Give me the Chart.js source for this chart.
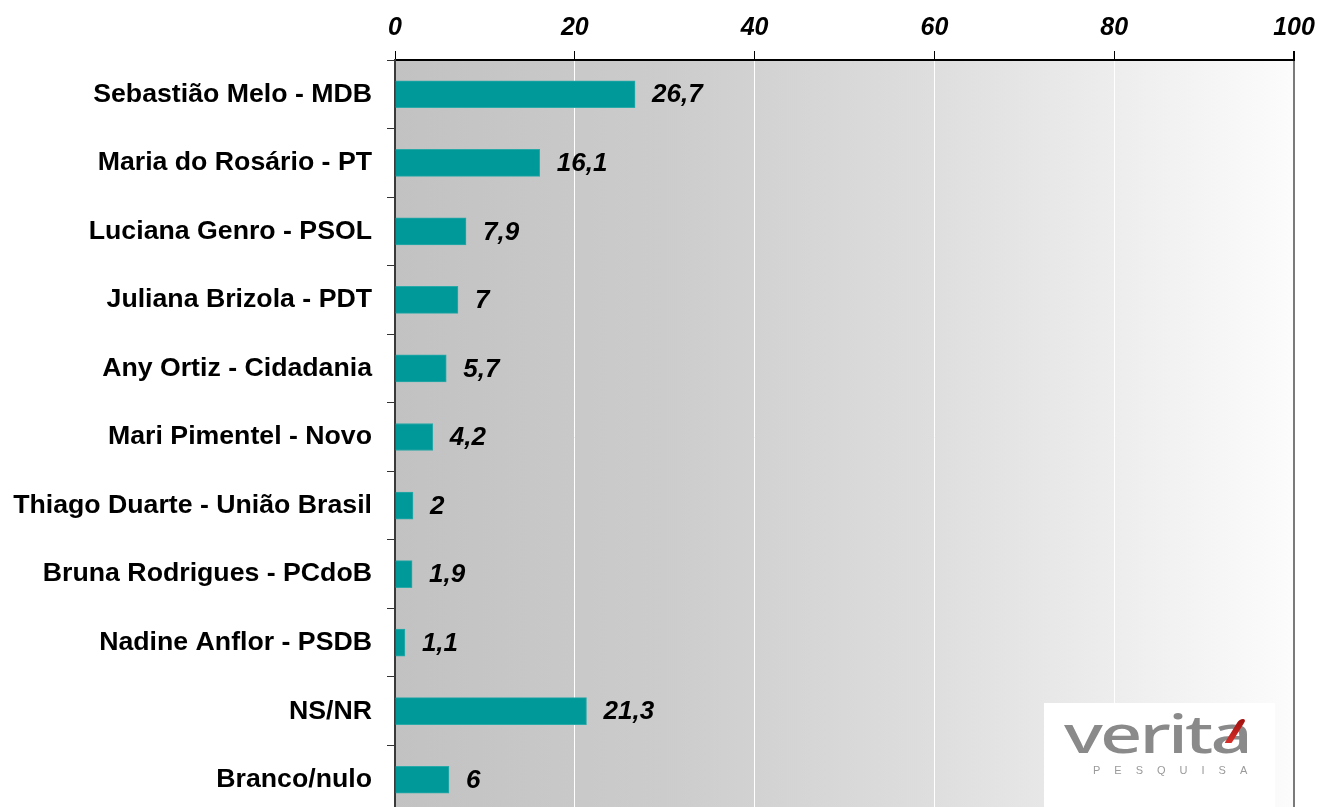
<!DOCTYPE html>
<html>
<head>
<meta charset="utf-8">
<script src="https://cdn.jsdelivr.net/npm/chart.js@4/dist/chart.umd.min.js"></script>
<style>
    html, body { margin: 0; padding: 0; background: #ffffff; overflow: hidden; }
    #wrap { position: relative; width: 1320px; height: 807px; }
    #logo {
        position: absolute; left: 1044px; top: 703px; width: 231px; height: 110px;
        background: #ffffff;
    }
    #logo .word {
        position: absolute; left: 20px; top: -6px;
        font-family: "Noto Sans", sans-serif; font-size: 52px; font-weight: 500; color: #8a8a8a;
        letter-spacing: -2px; transform: scaleX(1.42); transform-origin: left top;
    }
    #logo .accent {
        position: absolute; left: 188px; top: 16px; width: 7px; height: 24px;
        background: linear-gradient(#a0100e, #d8302a); transform: skewX(-32deg); border-radius: 4px 4px 1px 1px;
    }
    #logo .sub {
        position: absolute; left: 49px; top: 61px;
        font-family: "Liberation Sans", Arial, sans-serif; font-size: 11px; color: #9a9a9a;
        letter-spacing: 14px;
    }
</style>
</head>
<body>
<div id="wrap">
    <canvas id="chart" width="1320" height="814"></canvas>
    <div id="logo">
        <span class="word">verita</span>
        <span class="accent"></span>
        <span class="sub">PESQUISA</span>
    </div>
</div>
<script>
const categories = [
    "Sebastião Melo - MDB",
    "Maria do Rosário - PT",
    "Luciana Genro - PSOL",
    "Juliana Brizola - PDT",
    "Any Ortiz - Cidadania",
    "Mari Pimentel - Novo",
    "Thiago Duarte - União Brasil",
    "Bruna Rodrigues - PCdoB",
    "Nadine Anflor - PSDB",
    "NS/NR",
    "Branco/nulo",
];
const values = [26.7, 16.1, 7.9, 7, 5.7, 4.2, 2, 1.9, 1.1, 21.3, 6];
const xTicks = [0, 20, 40, 60, 80, 100];

// gray-to-white backdrop behind the plot area
const plotBackground = {
    id: "plotBackground",
    beforeDraw(chart) {
        const { ctx, chartArea } = chart;
        const grad = ctx.createLinearGradient(chartArea.left, 0, chartArea.right, 0);
        grad.addColorStop(0, "#c2c2c2");
        grad.addColorStop(0.3, "#cccccc");
        grad.addColorStop(0.6, "#dedede");
        grad.addColorStop(1, "#fcfcfc");
        ctx.save();
        ctx.fillStyle = grad;
        ctx.fillRect(chartArea.left, chartArea.top, chartArea.right - chartArea.left, chartArea.bottom - chartArea.top);
        ctx.restore();
    },
};

// value labels right of each bar
const valueLabels = {
    id: "valueLabels",
    afterDatasetsDraw(chart) {
        const { ctx } = chart;
        const meta = chart.getDatasetMeta(0);
        ctx.save();
        ctx.font = "italic bold 26px 'Liberation Sans', Arial, sans-serif";
        ctx.fillStyle = "#000000";
        ctx.textAlign = "left";
        ctx.textBaseline = "middle";
        meta.data.forEach((bar, i) => {
            const text = String(values[i]).replace(".", ",");
            ctx.fillText(text, bar.x + 17, bar.y + 1);
        });
        ctx.restore();
    },
};

new Chart(document.getElementById("chart"), {
    type: "bar",
    data: {
        labels: categories,
        datasets: [
            {
                data: values,
                backgroundColor: "#009999",
                borderColor: "#2aa9a9",
                borderWidth: 1,
                borderSkipped: "left",
                barThickness: 27,
            },
        ],
    },
    options: {
        indexAxis: "y",
        responsive: false,
        animation: false,
        layout: { padding: { left: 0, right: 26, top: 0, bottom: 0 } },
        plugins: {
            legend: { display: false },
            tooltip: { enabled: false },
        },
        scales: {
            x: {
                position: "top",
                min: 0,
                max: 100,
                afterBuildTicks: scale => {
                    scale.ticks = xTicks.map(v => ({ value: v }));
                },
                afterFit: scale => {
                    scale.height = 60;
                    scale.paddingLeft = 0;
                    scale.paddingRight = 0;
                },
                ticks: {
                    color: "#000000",
                    padding: 8,
                    font: { family: "'Liberation Sans', Arial, sans-serif", size: 25, style: "italic", weight: "bold" },
                },
                grid: {
                    color: ctx => (ctx.tick && ctx.tick.value === 100 ? "#7a7a7a" : ctx.tick && ctx.tick.value === 0 ? "rgba(0,0,0,0)" : "#ffffff"),
                    lineWidth: ctx => (ctx.tick && ctx.tick.value === 100 ? 2 : 1),
                    tickColor: "#000000",
                    tickLength: 9,
                },
                border: { color: "#000000", width: 2 },
            },
            y: {
                afterFit: scale => {
                    scale.width = 395;
                    scale.paddingTop = 0;
                    scale.paddingBottom = 0;
                },
                ticks: {
                    color: "#000000",
                    padding: 15,
                    font: { family: "'Liberation Sans', Arial, sans-serif", size: 26.7, weight: "bold" },
                },
                grid: {
                    drawOnChartArea: false,
                    offset: true,
                    tickColor: "#333333",
                    tickLength: 8,
                },
                border: { color: "#3a3a3a", width: 2 },
            },
        },
    },
    plugins: [plotBackground, valueLabels],
});
</script>
</body>
</html>
